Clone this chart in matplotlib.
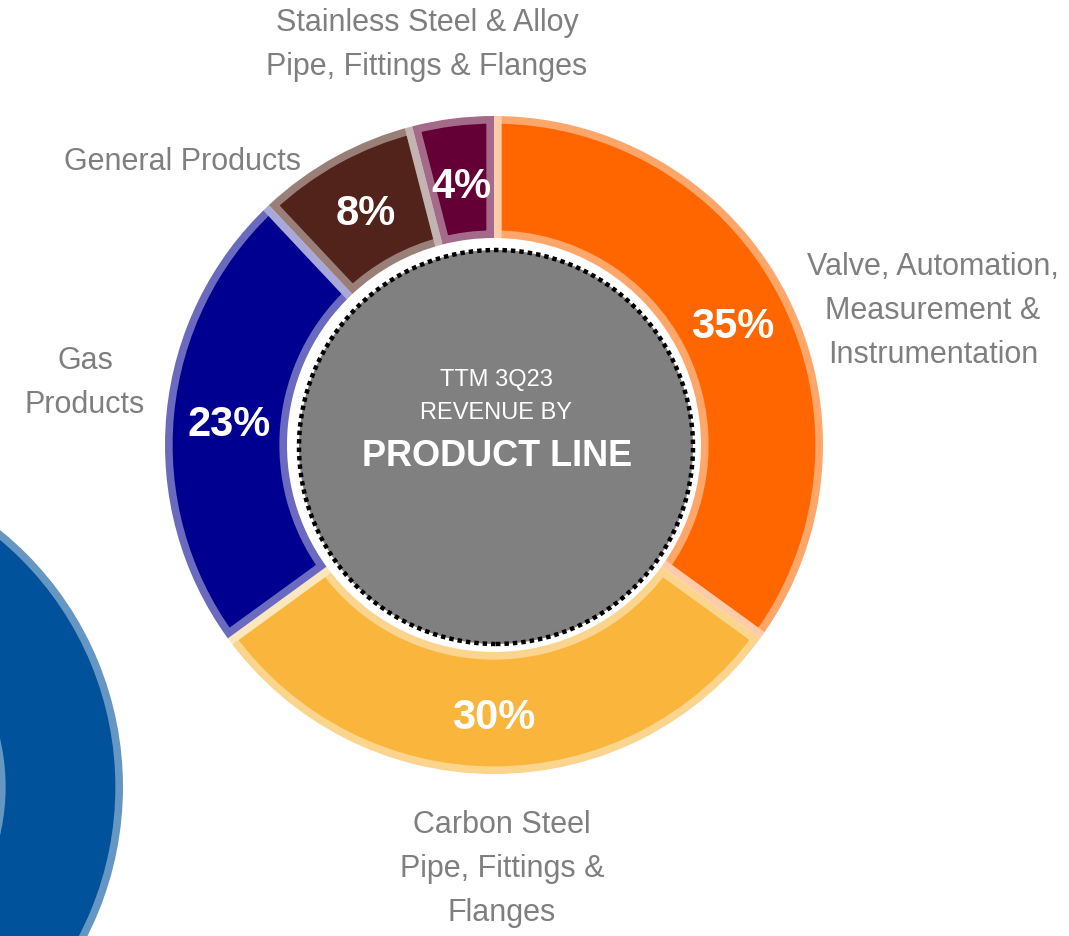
import matplotlib
matplotlib.use("Agg")
from matplotlib import pyplot as plt, patches

# data
categories = ["Valve, Automation,\nMeasurement &\nInstrumentation",
              "Carbon Steel\nPipe, Fittings &\nFlanges",
              "Gas\nProducts",
              "General Products",
              "Stainless Steel & Alloy\nPipe, Fittings & Flanges"]
shares = [35, 30, 23, 8, 4]
pct_labels = ["35%", "30%", "23%", "8%", "4%"]
colors = ["#FF6600", "#F9B53C", "#000090", "#52231A", "#640035"]
center_lines = ["TTM 3Q23", "REVENUE BY", "PRODUCT LINE"]

W, H = 1069, 936
fonts = ["Liberation Sans Narrow", "Liberation Sans", "DejaVu Sans"]
grey = "#7F7F7F"

fig = plt.figure(figsize=(W / 100, H / 100), dpi=100)
ax = fig.add_axes([0, 0, 1, 1])


def py(y):
    # pixel row (from top) -> data y
    return H - y


cx, cy = 494, py(445)
r_out, r_in = 329, 207

# blue ring from neighbouring chart, partly off-canvas
blue = patches.Wedge((-207, py(787)), 330, 0, 360, width=125,
                     facecolor="#00529B", edgecolor=(1, 1, 1, 0.4), linewidth=11)
ax.add_patch(blue)

wedges, _ = ax.pie(shares, colors=colors, startangle=90, counterclock=False,
                   center=(cx, cy), radius=r_out,
                   wedgeprops=dict(width=r_out - r_in, edgecolor=(1, 1, 1, 0.42),
                                   linewidth=11))

# centre disc
ax.add_patch(patches.Circle((cx + 2, cy - 2), 197, facecolor="#808080",
                            edgecolor="black", linewidth=3.2, linestyle=(0, (1, 0.9))))

ax.text(496, py(380), center_lines[0], color="white", fontsize=17, family=fonts,
        ha="center", va="center")
ax.text(496, py(413), center_lines[1], color="white", fontsize=17, family=fonts,
        ha="center", va="center")
ax.text(497, py(457), center_lines[2], color="white", fontsize=26, family=fonts,
        fontweight="bold", ha="center", va="center")

# percentage labels
pct_pos = [(733, 327), (494, 718), (229, 425), (366, 214), (461, 187)]
for (x, y), t in zip(pct_pos, pct_labels):
    ax.text(x, py(y), t, color="white", fontsize=30, family=fonts,
            fontweight="bold", ha="center", va="center")

# category labels
cat_pos = [(933, 311), (502, 869), (85, 383), (183, 162), (427, 45)]
for (x, y), t in zip(cat_pos, categories):
    ax.text(x, py(y), t, color=grey, fontsize=22, family=fonts,
            ha="center", va="center", linespacing=1.6)

ax.set_xlim(0, W)
ax.set_ylim(0, H)
ax.set_aspect("equal")
ax.axis("off")

fig.savefig("out.png", dpi=100, facecolor="white")
